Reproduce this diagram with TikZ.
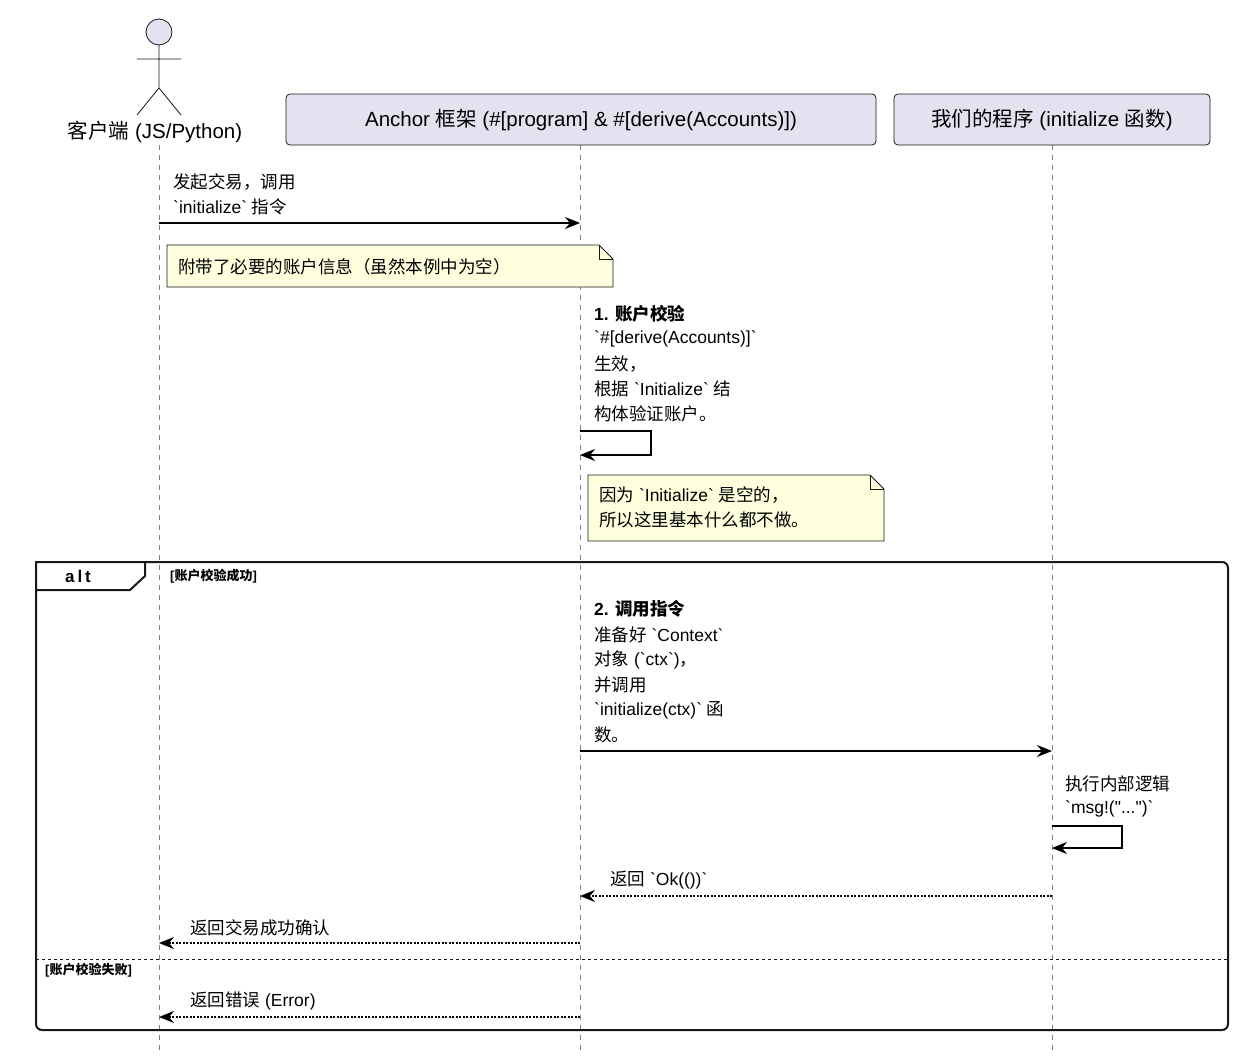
\documentclass[tikz,border=0pt]{standalone}
\usepackage{fontspec}
\setmainfont{Liberation Sans}
\newfontfamily\cjk{Noto Sans CJK SC}
\newcommand{\C}[1]{{\cjk #1}}
\newcommand{\bq}{\textasciigrave}
\newcommand{\dq}{\textquotedbl}
\usetikzlibrary{arrows.meta}
\definecolor{partfill}{HTML}{E2E2F0}
\definecolor{notefill}{HTML}{FEFFDD}
\definecolor{linegray}{HTML}{181818}
\tikzset{x=1pt,y=-1pt,
 msg/.style={anchor=west,inner sep=0pt,font=\fontsize{17.5}{20}\selectfont},
 part/.style={draw=linegray,fill=partfill,rounded corners=4pt,line width=0.8pt,font=\fontsize{20.5}{24}\selectfont},
 life/.style={draw=gray,dash pattern=on 5pt off 5pt,line width=0.8pt},
 arr/.style={line width=2pt,-{Stealth[length=15pt,width=12pt,inset=5pt]}},
 ret/.style={arr,dash pattern=on 2pt off 1.5pt},
 notebox/.style={draw=linegray,fill=notefill,line width=0.8pt},
 guard/.style={anchor=west,inner sep=0pt,font=\fontsize{13}{15}\selectfont\bfseries}}
\begin{document}
\begin{tikzpicture}
\useasboundingbox[fill=white] (0,0) rectangle (1256,1060);
% lifelines
\coordinate (c0) at (159,145); \coordinate (c1) at (159,1055);
\coordinate (a0) at (580,145); \coordinate (a1) at (580,1055);
\coordinate (p0) at (1052,145); \coordinate (p1) at (1052,1055);
\draw[life] (c0)--(c1); \draw[life] (a0)--(a1); \draw[life] (p0)--(p1);
% actor
\draw[linegray,fill=partfill,line width=0.8pt] (159,32) circle (13);
\draw[linegray,line width=0.8pt] (159,45)--(159,88) (137,59)--(181,59) (137,115)--(159,88)--(181,115);
\node[font=\fontsize{20.5}{24}\selectfont] (client) at (155,132) {\C{客户端} (JS/Python)};
% participants
\node[part,minimum width=590,minimum height=51] (anchor) at (581,119.5) {Anchor \C{框架} (\#[program] \& \#[derive(Accounts)])};
\node[part,minimum width=316,minimum height=51] (prog) at (1052,119.5) {\C{我们的程序} (initialize \C{函数})};
% msg 1
\node[msg] (t1) at (173,182) {\C{发起交易，调用}};
\node[msg] (t1b) at (173,207) {\bq initialize\bq{} \C{指令}};
\coordinate (m1s) at (159,223); \coordinate (m1e) at (580,223);
\draw[arr] (m1s)--(m1e);
% note 1
\draw[notebox] (167,245)--(599,245)--(613,259)--(613,287)--(167,287)--cycle;
\draw[linegray,line width=0.8pt] (599,245)--(599,259)--(613,259);
\node[msg] (n1) at (178,267) {\C{附带了必要的账户信息（虽然本例中为空）}};
% self 1
\node[msg,font=\fontsize{17.5}{20}\selectfont\bfseries] (s1) at (594,314) {1. \C{\bfseries 账户校验}};
\node[msg] at (594,339) {\bq\#[derive(Accounts)]\bq};
\node[msg] at (594,364) {\C{生效，}};
\node[msg] at (594,389) {\C{根据} \bq Initialize\bq{} \C{结}};
\node[msg] at (594,414) {\C{构体验证账户。}};
\coordinate (sa) at (580,431); \coordinate (sb) at (651,431); \coordinate (sc) at (651,455); \coordinate (sd) at (580,455);
\draw[arr] (sa)--(sb)--(sc)--(sd);
% note 2
\draw[notebox] (588,475)--(870,475)--(884,489)--(884,541)--(588,541)--cycle;
\draw[linegray,line width=0.8pt] (870,475)--(870,489)--(884,489);
\node[msg] (n2) at (599,495) {\C{因为} \bq Initialize\bq{} \C{是空的，}};
\node[msg] at (599,520) {\C{所以这里基本什么都不做。}};
% alt frame
\draw[linegray,line width=2pt,rounded corners=6pt] (36,562) rectangle (1228,1030);
\draw[linegray,line width=2pt,fill=white] (36,562)--(145,562)--(145,576)--(130,590)--(36,590)--cycle;
\node[font=\fontsize{17}{20}\selectfont\bfseries] (alt) at (78,576) {a\,l\,t};
\node[guard] (g1) at (170,576) {[\C{\bfseries 账户校验成功}]};
% msg 2
\node[msg,font=\fontsize{17.5}{20}\selectfont\bfseries] at (594,609) {2. \C{\bfseries 调用指令}};
\node[msg] at (594,635) {\C{准备好} \bq Context\bq};
\node[msg] at (594,660) {\C{对象} (\bq ctx\bq)\C{，}};
\node[msg] at (594,685) {\C{并调用}};
\node[msg] at (594,710) {\bq initialize(ctx)\bq{} \C{函}};
\node[msg] at (594,735) {\C{数。}};
\coordinate (m2s) at (580,751); \coordinate (m2e) at (1052,751);
\draw[arr] (m2s)--(m2e);
% self 2
\node[msg] at (1065,784) {\C{执行内部逻辑}};
\node[msg] at (1065,809) {\bq msg!(\dq...\dq)\bq};
\coordinate (qa) at (1052,826); \coordinate (qb) at (1122,826); \coordinate (qc) at (1122,848); \coordinate (qd) at (1052,848);
\draw[arr] (qa)--(qb)--(qc)--(qd);
% returns
\node[msg] at (610,880) {\C{返回} \bq Ok(())\bq};
\coordinate (r1s) at (1052,896); \coordinate (r1e) at (580,896);
\draw[ret] (r1s)--(r1e);
\node[msg] at (190,928) {\C{返回交易成功确认}};
\coordinate (r2s) at (580,943); \coordinate (r2e) at (159,943);
\draw[ret] (r2s)--(r2e);
\coordinate (sep0) at (36,959); \coordinate (sep1) at (1228,959);
\draw[linegray,line width=0.8pt,dash pattern=on 3pt off 3pt] (sep0)--(sep1);
\node[guard] (g2) at (45,970) {[\C{\bfseries 账户校验失败}]};
\node[msg] at (190,1001) {\C{返回错误} (Error)};
\coordinate (r3s) at (580,1017); \coordinate (r3e) at (159,1017);
\draw[ret] (r3s)--(r3e);
\end{tikzpicture}
\end{document}
